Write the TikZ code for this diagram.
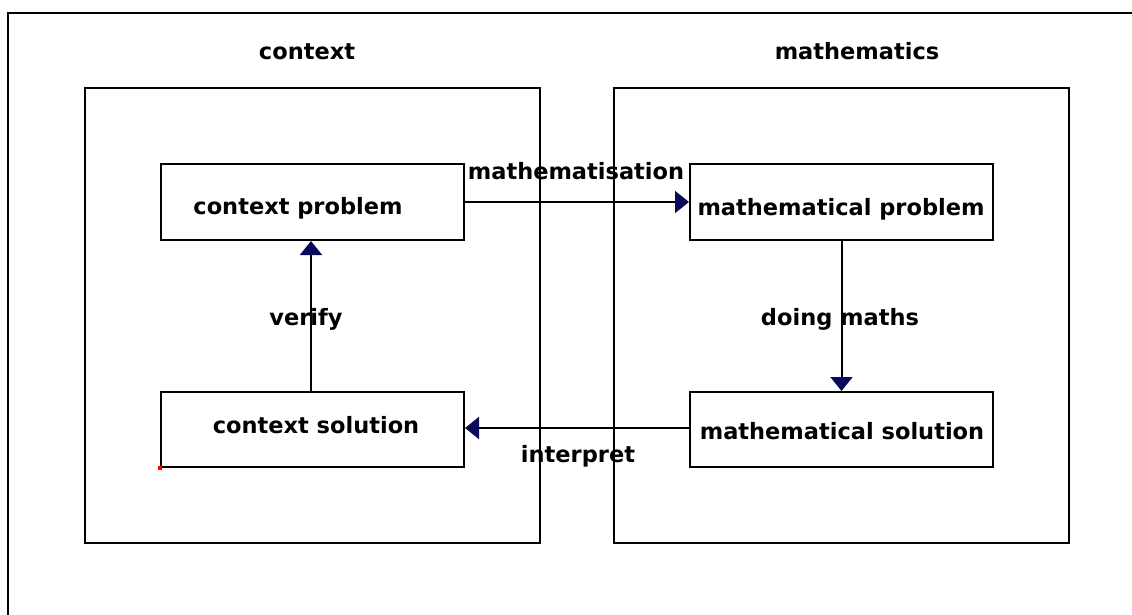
\documentclass[tikz,border=0pt]{standalone}
\usepackage{fontspec}
\setmainfont{DejaVu Sans}
\usetikzlibrary{arrows.meta}
\definecolor{tipcol}{RGB}{10,10,90}
\tikzset{
  box/.style={draw=black, line width=2pt, minimum width=#1, inner sep=0pt, anchor=north west},
  lbl/.style={font=\bfseries\fontsize{22.5}{26}\selectfont, inner sep=0pt, anchor=base},
  conn/.style={draw=black, line width=2pt, -{Triangle[width=22pt,length=14pt,fill=tipcol,color=tipcol]}},
}
\begin{document}
\begin{tikzpicture}[x=1pt,y=-1pt]
\useasboundingbox (0,0) rectangle (1132,615);
% outer frame (only left and top edges visible)
\coordinate (fbl) at (7.5,615);
\coordinate (ftl) at (7.5,13.5);
\coordinate (ftr) at (1132,13.5);
\draw[line width=2pt] (fbl) -- (ftl) -- (ftr);
% big panels
\node[box=455pt, minimum height=455pt] (ctx) at (84,87) {};
\node[box=455pt, minimum height=455pt] (math) at (613,87) {};
% inner boxes
\node[box=303pt, minimum height=76pt] (cp) at (160,163) {};
\node[box=303pt, minimum height=76pt] (mp) at (689,163) {};
\node[box=303pt, minimum height=75pt] (cs) at (160,391) {};
\node[box=303pt, minimum height=75pt] (ms) at (689,391) {};
% titles and box texts
\node[lbl] (tctx) at (307,60) {context};
\node[lbl] (tmath) at (857,60) {mathematics};
\node[lbl] (tcp) at (298,214) {context problem};
\node[lbl] (tmp) at (841,215) {mathematical problem};
\node[lbl] (tcs) at (316,433) {context solution};
\node[lbl] (tms) at (842,439) {mathematical solution};
% connectors
\draw[conn] (cp.east) -- (mp.west);
\draw[conn] (mp.south) -- (ms.north);
\draw[conn] (ms.west |- 0,428) coordinate (msw) -- (cs.east |- msw);
\draw[conn] (cs.north -| 311,0) coordinate (csn) -- (cp.south -| csn);
% connector labels
\node[lbl] (lmath) at (576,179) {mathematisation};
\node[lbl] (lver) at (306,325) {verify};
\node[lbl] (ldo) at (840,325) {doing maths};
\node[lbl] (lint) at (578,462) {interpret};
% small red mark
\fill[red] (cs.south west) ++(-2,-2) rectangle ++(4,4);
\end{tikzpicture}
\end{document}
